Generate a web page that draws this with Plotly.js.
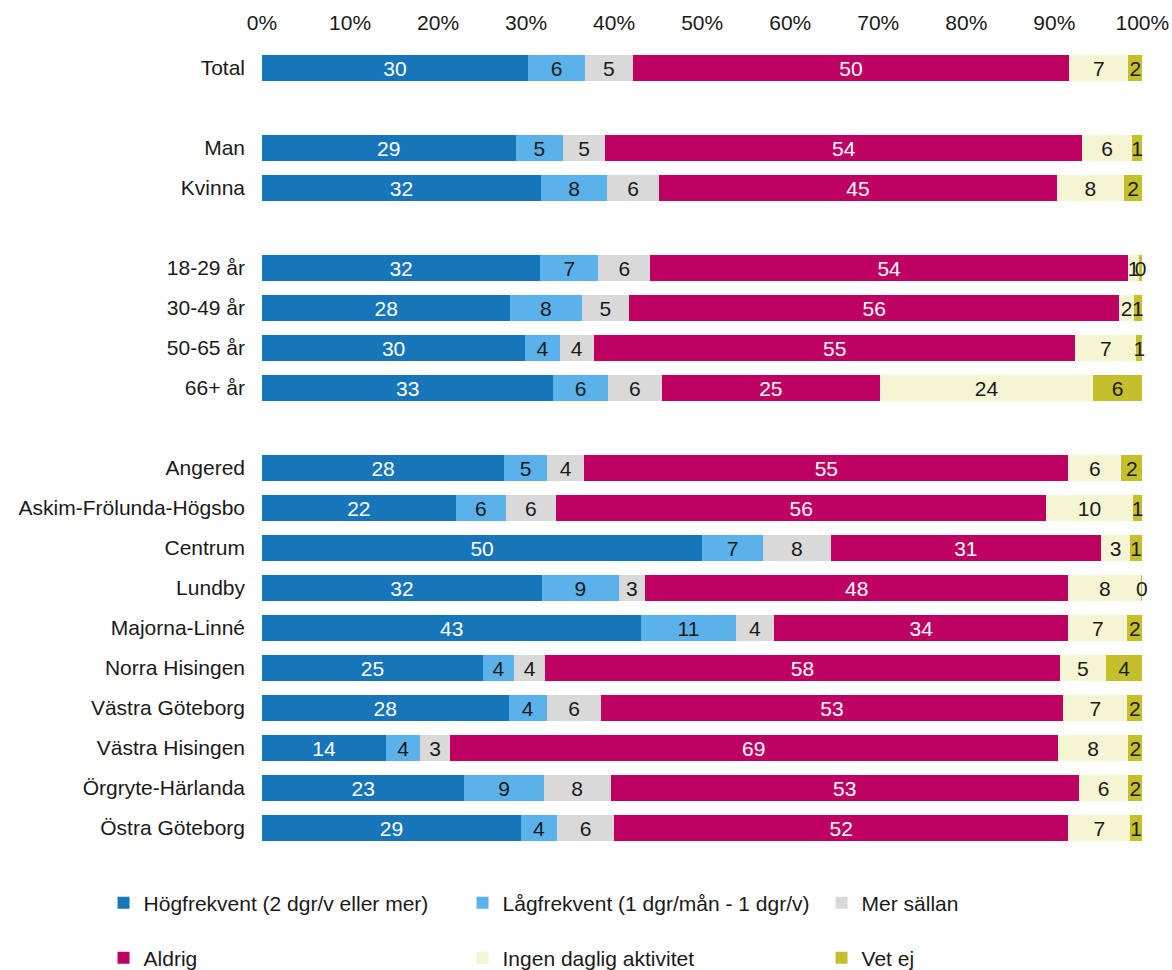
<!DOCTYPE html>
<html>
<head>
<meta charset="utf-8">
<script src="https://cdn.plot.ly/plotly-3.0.1.min.js"></script>
<style>html,body{margin:0;padding:0;background:#fff;}#chart{width:1172px;height:970px;}</style>
</head>
<body>
<div id="chart"></div>
<script>
// Categories (blank strings are spacer rows)
const categories = ["Total", " ", "Man", "Kvinna", "  ", "18-29 år", "30-49 år", "50-65 år", "66+ år", "   ",
  "Angered", "Askim-Frölunda-Högsbo", "Centrum", "Lundby", "Majorna-Linné", "Norra Hisingen",
  "Västra Göteborg", "Västra Hisingen", "Örgryte-Härlanda", "Östra Göteborg"];

const seriesNames = ["Högfrekvent (2 dgr/v eller mer)", "Lågfrekvent (1 dgr/mån - 1 dgr/v)", "Mer sällan",
  "Aldrig", "Ingen daglig aktivitet", "Vet ej"];

// Segment widths (percent)
const hogfrekvent = [30.2, null, 28.8, 31.7, null, 31.6, 28.2, 29.9, 33.1, null, 27.5, 22.0, 50.0, 31.8, 43.1, 25.1, 28.0, 14.1, 23.0, 29.4];
const lagfrekvent = [6.5, null, 5.4, 7.5, null, 6.6, 8.1, 3.9, 6.2, null, 4.9, 5.7, 6.9, 8.7, 10.7, 3.5, 4.4, 3.9, 9.0, 4.1];
const merSallan   = [5.4, null, 4.8, 5.9, null, 5.9, 5.4, 3.9, 6.1, null, 4.2, 5.7, 7.7, 3.0, 4.4, 3.6, 6.1, 3.3, 7.6, 6.5];
const aldrig      = [49.6, null, 54.2, 45.2, null, 54.3, 55.7, 54.7, 24.8, null, 55.0, 55.7, 30.7, 48.1, 33.4, 58.4, 52.5, 69.1, 53.2, 51.6];
const ingenDaglig = [6.7, null, 5.6, 7.6, null, 1.2, 1.6, 6.9, 24.2, null, 6.0, 9.8, 3.3, 8.3, 6.7, 5.3, 7.3, 8.0, 5.6, 7.0];
const vetEj       = [1.6, null, 1.2, 2.1, null, 0.4, 1.0, 0.7, 5.6, null, 2.4, 1.1, 1.4, 0.1, 1.7, 4.1, 1.7, 1.6, 1.6, 1.4];

// Labels as printed on the bars
const hogfrekventLabels = ["30", "", "29", "32", "", "32", "28", "30", "33", "", "28", "22", "50", "32", "43", "25", "28", "14", "23", "29"];
const lagfrekventLabels = ["6", "", "5", "8", "", "7", "8", "4", "6", "", "5", "6", "7", "9", "11", "4", "4", "4", "9", "4"];
const merSallanLabels   = ["5", "", "5", "6", "", "6", "5", "4", "6", "", "4", "6", "8", "3", "4", "4", "6", "3", "8", "6"];
const aldrigLabels      = ["50", "", "54", "45", "", "54", "56", "55", "25", "", "55", "56", "31", "48", "34", "58", "53", "69", "53", "52"];
const ingenDagligLabels = ["7", "", "6", "8", "", "1", "2", "7", "24", "", "6", "10", "3", "8", "7", "5", "7", "8", "6", "7"];
const vetEjLabels       = ["2", "", "1", "2", "", "0", "1", "1", "6", "", "2", "1", "1", "0", "2", "4", "2", "2", "2", "1"];

const tickValues = [0, 10, 20, 30, 40, 50, 60, 70, 80, 90, 100];

const colors = ["#1775B9", "#5BB1EA", "#D9D9D9", "#BE0062", "#F5F4D3", "#C6BF2C"];
const textColors = ["#ffffff", "#1a1a1a", "#1a1a1a", "#ffffff", "#1a1a1a", "#1a1a1a"];
const allValues = [hogfrekvent, lagfrekvent, merSallan, aldrig, ingenDaglig, vetEj];
const allLabels = [hogfrekventLabels, lagfrekventLabels, merSallanLabels, aldrigLabels, ingenDagligLabels, vetEjLabels];

const FONT = "'Liberation Sans', Arial, sans-serif";
const FS = 21;

// axis runs a hair past 100 so the 100% end stays at the same pixel
const X_MAX = 100.3;
const PLOT_W_100 = 880;

const traces = seriesNames.map((name, i) => ({
  type: "bar",
  orientation: "h",
  name: name,
  y: categories,
  x: allValues[i],
  text: allLabels[i],
  textposition: "inside",
  insidetextanchor: "middle",
  constraintext: "none",
  cliponaxis: false,
  textangle: 0,
  textfont: {family: FONT, size: FS, color: textColors[i]},
  marker: {color: colors[i], line: {width: 0}},
  legend: i < 3 ? "legend" : "legend2",
  hoverinfo: "skip"
}));

const legendBase = {
  orientation: "h",
  x: -0.18, xanchor: "left",
  yanchor: "middle",
  entrywidth: 314, entrywidthmode: "pixels",
  itemwidth: 30,
  font: {family: FONT, size: FS, color: "#1a1a1a"},
  bgcolor: "rgba(0,0,0,0)",
  traceorder: "normal"
};

const plotW = PLOT_W_100 * X_MAX / 100;

const layout = {
  width: 1172,
  height: 970,
  barmode: "stack",
  bargap: 0.33,
  paper_bgcolor: "#ffffff",
  plot_bgcolor: "#ffffff",
  margin: {l: 262, r: 1172 - 262 - plotW, t: 48, b: 122, autoexpand: false},
  font: {family: FONT, size: FS, color: "#1a1a1a"},
  showlegend: true,
  xaxis: {
    side: "top",
    range: [0, X_MAX],
    tickvals: tickValues,
    ticktext: tickValues.map(v => v + "%"),
    showgrid: false,
    zeroline: false,
    showline: false,
    ticks: "",
    ticklabelstandoff: 13,
    tickfont: {family: FONT, size: FS, color: "#1a1a1a"},
    fixedrange: true
  },
  yaxis: {
    type: "category",
    categoryorder: "array",
    categoryarray: categories,
    autorange: "reversed",
    showgrid: false,
    zeroline: false,
    showline: false,
    ticks: "",
    ticklabelstandoff: 16,
    tickfont: {family: FONT, size: FS, color: "#1a1a1a"},
    fixedrange: true
  },
  legend: Object.assign({}, legendBase, {x: -0.18 * PLOT_W_100 / plotW, y: -0.06875}),
  legend2: Object.assign({}, legendBase, {x: -0.18 * PLOT_W_100 / plotW, y: -0.1375})
};

Plotly.newPlot("chart", traces, layout, {displayModeBar: false, staticPlot: true});
</script>
</body>
</html>
